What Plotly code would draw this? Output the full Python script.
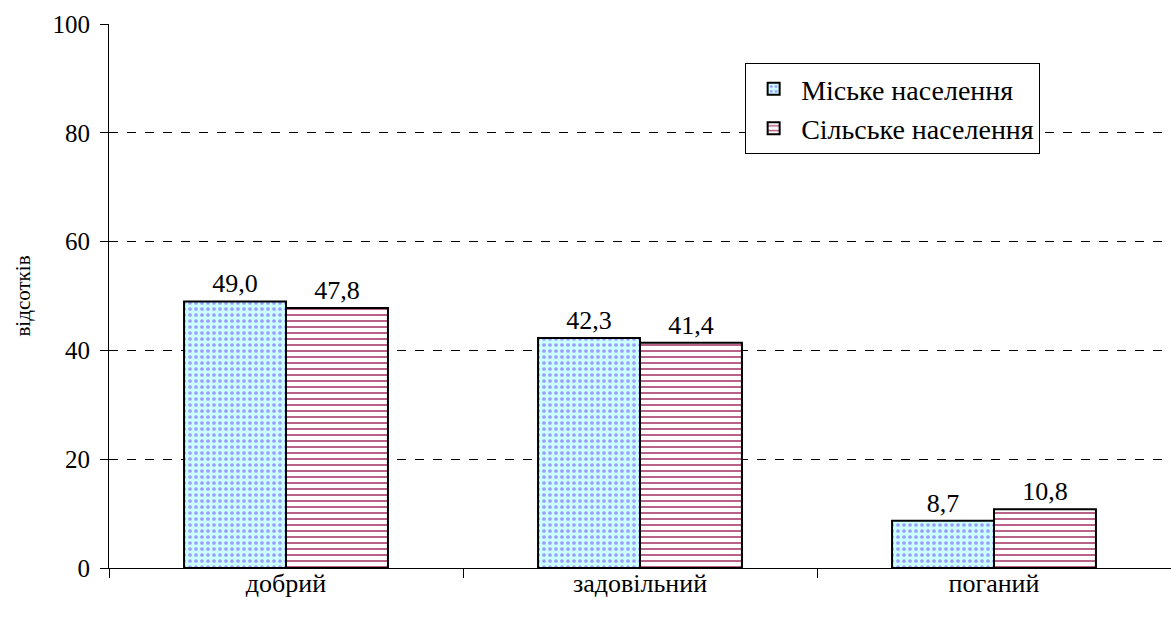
import plotly.graph_objects as go

categories = ["добрий", "задовільний", "поганий"]
urban = [49.0, 42.3, 8.7]
rural = [47.8, 41.4, 10.8]
series_names = ["Міське населення", "Сільське населення"]
y_ticks = [0, 20, 40, 60, 80, 100]

FONT = "Liberation Serif"

def fmt(v):
    return f"{v:.1f}".replace(".", ",")

fig = go.Figure()
fig.add_trace(go.Bar(
    x=categories, y=urban, name=series_names[0],
    text=[fmt(v) for v in urban], textposition="outside",
    textfont=dict(family=FONT, size=26, color="black"),
    marker=dict(color="#ccffff", line=dict(color="black", width=2),
                pattern=dict(shape=".", fgcolor="#9c9cff", bgcolor="#ccffff",
                             size=6, solidity=0.3, fillmode="replace")),
    cliponaxis=False,
))
fig.add_trace(go.Bar(
    x=categories, y=rural, name=series_names[1],
    text=[fmt(v) for v in rural], textposition="outside",
    textfont=dict(family=FONT, size=26, color="black"),
    marker=dict(color="white", line=dict(color="black", width=2),
                pattern=dict(shape="-", fgcolor="#b0507a", bgcolor="white",
                             size=6, solidity=0.3, fillmode="replace")),
    cliponaxis=False,
))

fig.update_layout(
    width=1171, height=623,
    margin=dict(l=109, r=0, t=24, b=55),
    paper_bgcolor="white", plot_bgcolor="white",
    barmode="group", bargap=0.424, bargroupgap=0,
    font=dict(family=FONT, size=20, color="black"),
    showlegend=True,
    legend=dict(x=0.599, y=0.928, xanchor="left", yanchor="top",
                bgcolor="white", bordercolor="black", borderwidth=1,
                font=dict(family=FONT, size=28, color="black"),
                tracegroupgap=0, itemsizing="constant", itemwidth=45,
                entrywidth=300, entrywidthmode="pixels"),
    xaxis=dict(showline=True, linecolor="black", linewidth=1,
               ticks="outside", tickson="boundaries", ticklen=9, tickcolor="black",
               tickfont=dict(family=FONT, size=26), showgrid=False,
               ticklabelstandoff=-8),
    yaxis=dict(range=[0, 100], tickvals=y_ticks, showline=True, linecolor="black",
               linewidth=1, ticks="outside", ticklen=8, tickcolor="black",
               tickfont=dict(family=FONT, size=25), ticklabelstandoff=5,
               showgrid=True, gridcolor="black", gridwidth=1, griddash="dash",
               zeroline=False,
               title=dict(text="відсотків", font=dict(family=FONT, size=21), standoff=16)),
)

fig.write_html("out.html", config={"displayModeBar": False},
               post_script="document.body.style.margin='0';")
